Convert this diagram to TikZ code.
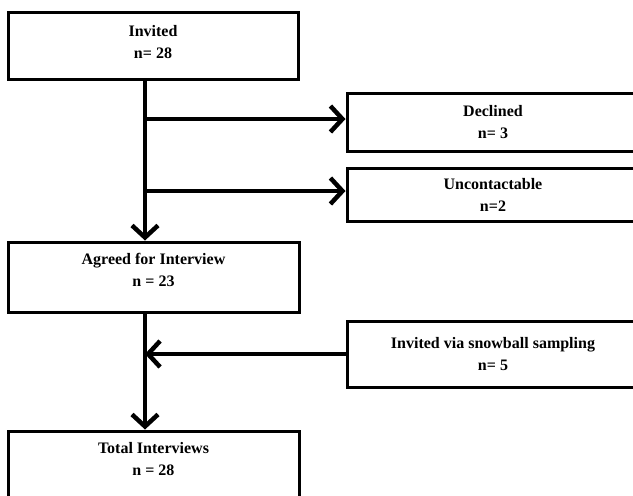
\documentclass[tikz,border=0pt]{standalone}
\usepackage{fontspec}
\setmainfont{Liberation Serif}
\usetikzlibrary{arrows.meta}
\begin{document}
\begin{tikzpicture}[x=1pt,y=-1pt,
  box/.style={draw=black,line width=3pt,rectangle,align=center,inner sep=0pt,
    font=\fontsize{16}{22}\selectfont\bfseries},
  arr/.style={line width=4.5pt,-{Straight Barb[length=12pt,width=26pt]}}]
\useasboundingbox (0,0) rectangle (633,496);
\clip (0,0) rectangle (633,496);
\node[box,minimum width=290pt,minimum height=67pt,text depth=8pt] (inv) at (153,45.5) {Invited\\n= 28};
\node[box,minimum width=292pt,minimum height=58pt] (dec) at (493,122) {Declined\\n= 3};
\node[box,minimum width=292pt,minimum height=53pt] (unc) at (493,194.5) {Uncontactable\\n=2};
\node[box,minimum width=291pt,minimum height=70pt,text depth=15pt] (agr) at (153.5,277) {Agreed for Interview\\n = 23};
\node[box,minimum width=292pt,minimum height=66pt] (snow) at (493,354) {Invited via snowball sampling\\n= 5};
\node[box,minimum width=291pt,minimum height=70pt,text depth=15pt] (tot) at (153.5,466) {Total Interviews\\n = 28};
\coordinate (t) at (145,0);
\coordinate (b1) at (145,119);
\coordinate (b2) at (145,191);
\draw[arr] (inv.south -| t) -- (agr.north -| t);
\draw[arr] (b1) -- (dec.west |- b1);
\draw[arr] (b2) -- (unc.west |- b2);
\draw[arr] (agr.south -| t) -- (tot.north -| t);
\draw[arr] (snow.west) -- (snow.west -| t);
\end{tikzpicture}
\end{document}
